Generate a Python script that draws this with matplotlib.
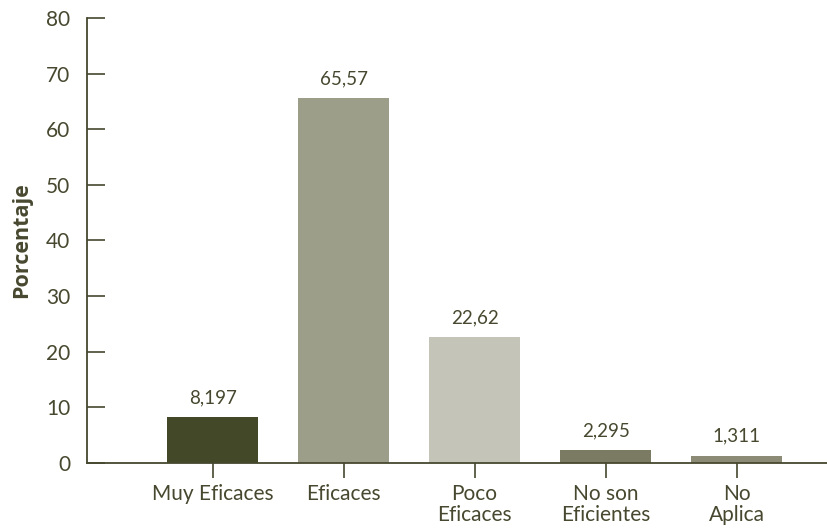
import matplotlib
matplotlib.use("Agg")
import matplotlib.pyplot as plt

# Data
categorias = ["Muy Eficaces", "Eficaces", "Poco\nEficaces", "No son\nEficientes", "No\nAplica"]
porcentajes = [8.197, 65.57, 22.62, 2.295, 1.311]
etiquetas = ["8,197", "65,57", "22,62", "2,295", "1,311"]
colores = ["#434829", "#9d9e8a", "#c4c4b8", "#7a7b62", "#8c8c76"]

txt = "#47482f"
plt.rcParams['font.family'] = ['Lato', 'DejaVu Sans']

fig = plt.figure(figsize=(8.27, 5.29), dpi=100)
ax = fig.add_axes([0.105, 0.125, 0.895, 0.841])

x = list(range(len(categorias)))
bars = ax.bar(x, porcentajes, width=0.69, color=colores, zorder=2)

# value labels above bars
for b, lab in zip(bars, etiquetas):
    ax.annotate(lab, (b.get_x() + b.get_width() / 2, b.get_height()),
                xytext=(0, 8), textcoords="offset points",
                ha="center", va="bottom", fontsize=13.5, color=txt)

ax.set_ylim(0, 80)
ax.set_xlim(-0.96, 4.69)
ax.set_yticks(range(0, 81, 10))
ax.set_xticks(x)
ax.set_xticklabels(categorias, linespacing=1.1)

for s in ["top", "right"]:
    ax.spines[s].set_visible(False)
for s in ["left", "bottom"]:
    ax.spines[s].set_color(txt)
    ax.spines[s].set_linewidth(1.3)

ax.tick_params(axis="y", direction="in", length=13, width=1.2, colors=txt,
               labelsize=15, pad=12)
ax.tick_params(axis="x", direction="out", length=11, width=1.2, colors=txt,
               labelsize=15, pad=4)

ax.set_ylabel("Porcentaje", fontsize=15.5, fontweight="bold", color=txt, labelpad=10,
              family=["Open Sans", "DejaVu Sans"])

fig.savefig("out.png", dpi=100)
